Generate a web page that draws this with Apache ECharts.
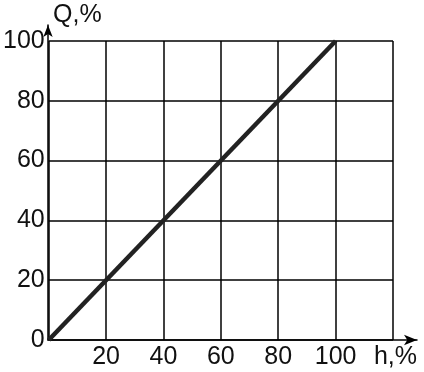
<!DOCTYPE html>
<html><head><meta charset="utf-8">
<script src="https://cdn.jsdelivr.net/npm/echarts@6/dist/echarts.min.js"></script>
<style>html,body{margin:0;padding:0;background:#fff}#c{width:424px;height:372px}</style>
</head><body><div id="c"></div>
<script>
const hValues = [0, 100];
const qValues = [0, 100];
const xTicks = [20, 40, 60, 80, 100];
const yTicks = [0, 20, 40, 60, 80, 100];
const xName = 'h,%';
const yName = 'Q,%';

const FONT = '"Liberation Sans", Arial, sans-serif';
const FS = 25;
const chart = echarts.init(document.getElementById('c'), null, {renderer: 'canvas'});
chart.setOption({
  animation: false,
  backgroundColor: '#fff',
  grid: [
    {left: 48, right: 31, top: 41, bottom: 32},
    {left: 48, right: 7, top: 25, bottom: 32}
  ],
  xAxis: [
    {gridIndex: 0, type: 'value', min: 0, max: 120, interval: 20,
     axisLine: {show: false}, axisTick: {show: false},
     splitLine: {show: true, lineStyle: {color: '#000', width: 1.5}},
     axisLabel: {color: '#111', fontSize: FS, fontFamily: FONT, margin: 5,
       formatter: v => xTicks.includes(v) ? String(v) : ''}},
    {gridIndex: 1, type: 'value', min: 0, max: 128.3,
     axisLine: {show: true, onZero: false, symbol: ['none', 'arrow'], symbolSize: [8, 13],
       lineStyle: {color: '#000', width: 1.5}},
     axisTick: {show: false}, splitLine: {show: false}, axisLabel: {show: false},
     name: xName, nameLocation: 'end', nameGap: 0,
     nameTextStyle: {color: '#111', fontSize: FS, fontFamily: FONT, align: 'right', verticalAlign: 'top', padding: [5, 0, 0, 0]}}
  ],
  yAxis: [
    {gridIndex: 0, type: 'value', min: 0, max: 100, interval: 20,
     axisLine: {show: false}, axisTick: {show: false},
     splitLine: {show: true, lineStyle: {color: '#000', width: 1.5}},
     axisLabel: {color: '#111', fontSize: FS, fontFamily: FONT, margin: 4,
       formatter: v => yTicks.includes(v) ? String(v) : ''}},
    {gridIndex: 1, type: 'value', min: 0, max: 105.35,
     axisLine: {show: true, onZero: false, symbol: ['none', 'arrow'], symbolSize: [7, 12],
       lineStyle: {color: '#000', width: 1.5}},
     axisTick: {show: false}, splitLine: {show: false}, axisLabel: {show: false},
     name: yName, nameLocation: 'end', nameGap: -3,
     nameTextStyle: {color: '#111', fontSize: FS, fontFamily: FONT, align: 'left', verticalAlign: 'bottom', padding: [0, 0, 0, 5]}}
  ],
  series: [{
    type: 'line', xAxisIndex: 0, yAxisIndex: 0,
    data: hValues.map((h, i) => [h, qValues[i]]),
    symbol: 'none',
    lineStyle: {color: '#222', width: 4.5}
  }]
});
</script></body></html>
